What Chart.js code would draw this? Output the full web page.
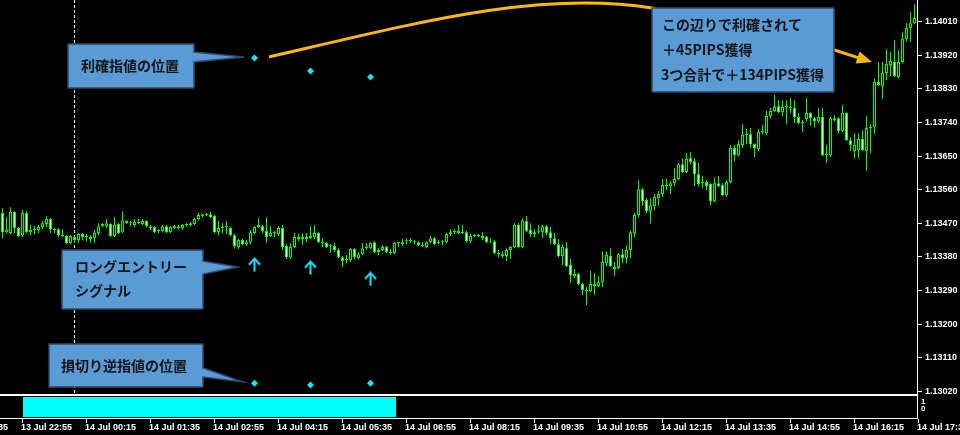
<!DOCTYPE html>
<html>
<head>
<meta charset="utf-8">
<script src="https://cdn.jsdelivr.net/npm/chart.js@4.4.1/dist/chart.umd.min.js"></script>
<style>
  html, body { margin: 0; padding: 0; background: #000; }
  #wrap { width: 960px; height: 435px; }
</style>
</head>
<body>
<div id="wrap"><canvas id="chart" width="960" height="435"></canvas></div>
<script>
// ── Data (EURUSD M5, 13 Jul 22:30 → 14 Jul 17:30) ───────────
const opens = [
  1.13496, 1.13445, 1.13443, 1.13499, 1.13456, 1.13437, 1.13496, 1.13445, 1.13451, 1.13451,
  1.13459, 1.13467, 1.13480, 1.13453, 1.13453, 1.13437, 1.13435, 1.13416, 1.13432, 1.13424,
  1.13440, 1.13432, 1.13432, 1.13429, 1.13443, 1.13461, 1.13461, 1.13467, 1.13435, 1.13467,
  1.13445, 1.13475, 1.13469, 1.13464, 1.13472, 1.13467, 1.13475, 1.13461, 1.13459, 1.13448,
  1.13448, 1.13461, 1.13445, 1.13456, 1.13461, 1.13456, 1.13464, 1.13464, 1.13467, 1.13480,
  1.13488, 1.13493, 1.13493, 1.13488, 1.13445, 1.13456, 1.13459, 1.13456, 1.13437, 1.13405,
  1.13424, 1.13413, 1.13418, 1.13443, 1.13459, 1.13461, 1.13448, 1.13435, 1.13443, 1.13440,
  1.13456, 1.13408, 1.13378, 1.13405, 1.13432, 1.13427, 1.13432, 1.13429, 1.13432, 1.13443,
  1.13418, 1.13416, 1.13408, 1.13408, 1.13397, 1.13378, 1.13370, 1.13370, 1.13400, 1.13376,
  1.13386, 1.13402, 1.13402, 1.13418, 1.13392, 1.13397, 1.13405, 1.13392, 1.13389, 1.13416,
  1.13413, 1.13421, 1.13421, 1.13421, 1.13418, 1.13410, 1.13405, 1.13418, 1.13429, 1.13416,
  1.13418, 1.13418, 1.13440, 1.13445, 1.13448, 1.13443, 1.13445, 1.13421, 1.13435, 1.13437,
  1.13435, 1.13432, 1.13418, 1.13421, 1.13389, 1.13386, 1.13381, 1.13397, 1.13405, 1.13464,
  1.13405, 1.13475, 1.13451, 1.13440, 1.13445, 1.13445, 1.13461, 1.13445, 1.13429, 1.13413,
  1.13381, 1.13402, 1.13357, 1.13328, 1.13333, 1.13306, 1.13290, 1.13287, 1.13306, 1.13301,
  1.13311, 1.13362, 1.13381, 1.13352, 1.13349, 1.13386, 1.13376, 1.13397, 1.13443, 1.13491,
  1.13560, 1.13531, 1.13501, 1.13515, 1.13536, 1.13547, 1.13571, 1.13568, 1.13576, 1.13587,
  1.13627, 1.13606, 1.13643, 1.13635, 1.13600, 1.13576, 1.13579, 1.13574, 1.13528, 1.13576,
  1.13571, 1.13544, 1.13579, 1.13670, 1.13651, 1.13678, 1.13705, 1.13707, 1.13681, 1.13667,
  1.13713, 1.13710, 1.13756, 1.13769, 1.13782, 1.13766, 1.13780, 1.13780, 1.13777, 1.13753,
  1.13737, 1.13748, 1.13764, 1.13750, 1.13742, 1.13753, 1.13651, 1.13651, 1.13750, 1.13750,
  1.13716, 1.13764, 1.13691, 1.13662, 1.13665, 1.13694, 1.13662, 1.13724, 1.13726, 1.13847,
  1.13836, 1.13871, 1.13892, 1.13900, 1.13860, 1.13900, 1.13962, 1.13991, 1.14004
];
const highs = [
  1.13509, 1.13485, 1.13512, 1.13501, 1.13459, 1.13504, 1.13501, 1.13464, 1.13461, 1.13464,
  1.13475, 1.13488, 1.13483, 1.13456, 1.13456, 1.13453, 1.13437, 1.13437, 1.13435, 1.13443,
  1.13443, 1.13440, 1.13437, 1.13451, 1.13469, 1.13469, 1.13480, 1.13469, 1.13485, 1.13469,
  1.13501, 1.13477, 1.13475, 1.13480, 1.13480, 1.13480, 1.13477, 1.13464, 1.13461, 1.13453,
  1.13464, 1.13464, 1.13461, 1.13464, 1.13464, 1.13467, 1.13469, 1.13472, 1.13483, 1.13496,
  1.13493, 1.13496, 1.13499, 1.13491, 1.13475, 1.13469, 1.13475, 1.13459, 1.13440, 1.13427,
  1.13427, 1.13424, 1.13451, 1.13461, 1.13483, 1.13464, 1.13485, 1.13461, 1.13448, 1.13461,
  1.13464, 1.13413, 1.13416, 1.13443, 1.13440, 1.13443, 1.13443, 1.13461, 1.13464, 1.13445,
  1.13429, 1.13418, 1.13413, 1.13416, 1.13402, 1.13381, 1.13384, 1.13402, 1.13402, 1.13392,
  1.13416, 1.13416, 1.13418, 1.13421, 1.13402, 1.13410, 1.13408, 1.13400, 1.13418, 1.13418,
  1.13427, 1.13429, 1.13429, 1.13424, 1.13421, 1.13418, 1.13421, 1.13435, 1.13432, 1.13424,
  1.13424, 1.13443, 1.13453, 1.13453, 1.13464, 1.13464, 1.13448, 1.13440, 1.13440, 1.13440,
  1.13445, 1.13435, 1.13429, 1.13424, 1.13397, 1.13394, 1.13402, 1.13408, 1.13469, 1.13469,
  1.13483, 1.13488, 1.13469, 1.13453, 1.13464, 1.13464, 1.13464, 1.13459, 1.13443, 1.13427,
  1.13413, 1.13418, 1.13373, 1.13346, 1.13336, 1.13309, 1.13298, 1.13341, 1.13336, 1.13328,
  1.13394, 1.13394, 1.13402, 1.13365, 1.13389, 1.13400, 1.13410, 1.13448, 1.13496, 1.13584,
  1.13563, 1.13536, 1.13536, 1.13547, 1.13555, 1.13587, 1.13587, 1.13582, 1.13617, 1.13630,
  1.13643, 1.13657, 1.13659, 1.13643, 1.13630, 1.13595, 1.13584, 1.13576, 1.13592, 1.13595,
  1.13576, 1.13584, 1.13678, 1.13678, 1.13691, 1.13734, 1.13721, 1.13724, 1.13683, 1.13721,
  1.13732, 1.13769, 1.13777, 1.13812, 1.13798, 1.13798, 1.13798, 1.13804, 1.13798, 1.13764,
  1.13745, 1.13804, 1.13766, 1.13753, 1.13777, 1.13777, 1.13678, 1.13753, 1.13758, 1.13753,
  1.13785, 1.13766, 1.13699, 1.13710, 1.13710, 1.13718, 1.13756, 1.13734, 1.13855, 1.13900,
  1.13900, 1.13935, 1.13927, 1.13959, 1.13932, 1.13980, 1.14004, 1.14034, 1.14055
];
const lows = [
  1.13429, 1.13443, 1.13440, 1.13443, 1.13432, 1.13432, 1.13443, 1.13437, 1.13440, 1.13443,
  1.13453, 1.13459, 1.13443, 1.13443, 1.13432, 1.13432, 1.13413, 1.13413, 1.13416, 1.13416,
  1.13424, 1.13421, 1.13418, 1.13416, 1.13437, 1.13459, 1.13456, 1.13432, 1.13432, 1.13440,
  1.13443, 1.13467, 1.13461, 1.13459, 1.13467, 1.13464, 1.13459, 1.13451, 1.13443, 1.13443,
  1.13445, 1.13443, 1.13443, 1.13453, 1.13453, 1.13451, 1.13459, 1.13461, 1.13464, 1.13477,
  1.13485, 1.13488, 1.13483, 1.13443, 1.13437, 1.13443, 1.13440, 1.13435, 1.13402, 1.13400,
  1.13410, 1.13408, 1.13413, 1.13440, 1.13456, 1.13443, 1.13416, 1.13432, 1.13432, 1.13435,
  1.13397, 1.13373, 1.13373, 1.13402, 1.13421, 1.13410, 1.13418, 1.13427, 1.13427, 1.13416,
  1.13405, 1.13402, 1.13389, 1.13392, 1.13376, 1.13352, 1.13362, 1.13365, 1.13373, 1.13373,
  1.13384, 1.13397, 1.13400, 1.13389, 1.13384, 1.13394, 1.13389, 1.13386, 1.13386, 1.13405,
  1.13408, 1.13413, 1.13416, 1.13413, 1.13408, 1.13405, 1.13402, 1.13416, 1.13410, 1.13413,
  1.13410, 1.13416, 1.13435, 1.13440, 1.13440, 1.13440, 1.13418, 1.13416, 1.13432, 1.13432,
  1.13424, 1.13416, 1.13416, 1.13386, 1.13378, 1.13376, 1.13368, 1.13373, 1.13402, 1.13402,
  1.13402, 1.13445, 1.13432, 1.13432, 1.13440, 1.13429, 1.13437, 1.13413, 1.13410, 1.13378,
  1.13357, 1.13352, 1.13309, 1.13322, 1.13303, 1.13277, 1.13250, 1.13285, 1.13277, 1.13298,
  1.13298, 1.13354, 1.13352, 1.13328, 1.13346, 1.13362, 1.13362, 1.13376, 1.13432, 1.13485,
  1.13515, 1.13496, 1.13469, 1.13504, 1.13517, 1.13539, 1.13558, 1.13547, 1.13568, 1.13584,
  1.13603, 1.13603, 1.13627, 1.13568, 1.13568, 1.13563, 1.13558, 1.13517, 1.13525, 1.13566,
  1.13542, 1.13539, 1.13576, 1.13635, 1.13649, 1.13670, 1.13681, 1.13670, 1.13646, 1.13662,
  1.13707, 1.13705, 1.13750, 1.13766, 1.13764, 1.13756, 1.13734, 1.13764, 1.13737, 1.13734,
  1.13713, 1.13742, 1.13729, 1.13726, 1.13737, 1.13649, 1.13630, 1.13646, 1.13742, 1.13710,
  1.13713, 1.13689, 1.13662, 1.13643, 1.13643, 1.13662, 1.13609, 1.13657, 1.13707, 1.13836,
  1.13801, 1.13852, 1.13863, 1.13860, 1.13857, 1.13897, 1.13956, 1.13954, 1.14002
];
const closes = [
  1.13445, 1.13453, 1.13499, 1.13456, 1.13435, 1.13496, 1.13445, 1.13451, 1.13453, 1.13459,
  1.13469, 1.13480, 1.13453, 1.13451, 1.13437, 1.13435, 1.13416, 1.13435, 1.13424, 1.13440,
  1.13432, 1.13432, 1.13427, 1.13443, 1.13461, 1.13467, 1.13469, 1.13435, 1.13464, 1.13443,
  1.13477, 1.13469, 1.13469, 1.13472, 1.13469, 1.13475, 1.13461, 1.13456, 1.13445, 1.13448,
  1.13461, 1.13445, 1.13459, 1.13461, 1.13456, 1.13464, 1.13467, 1.13469, 1.13480, 1.13491,
  1.13493, 1.13491, 1.13485, 1.13445, 1.13456, 1.13459, 1.13459, 1.13437, 1.13408, 1.13424,
  1.13413, 1.13418, 1.13445, 1.13459, 1.13464, 1.13448, 1.13432, 1.13443, 1.13443, 1.13456,
  1.13405, 1.13378, 1.13405, 1.13432, 1.13427, 1.13432, 1.13427, 1.13435, 1.13443, 1.13418,
  1.13416, 1.13405, 1.13408, 1.13397, 1.13378, 1.13368, 1.13373, 1.13400, 1.13378, 1.13386,
  1.13402, 1.13405, 1.13416, 1.13392, 1.13397, 1.13405, 1.13392, 1.13389, 1.13416, 1.13416,
  1.13418, 1.13421, 1.13424, 1.13418, 1.13410, 1.13408, 1.13418, 1.13429, 1.13413, 1.13418,
  1.13418, 1.13440, 1.13445, 1.13448, 1.13443, 1.13445, 1.13421, 1.13435, 1.13437, 1.13435,
  1.13429, 1.13418, 1.13421, 1.13389, 1.13386, 1.13381, 1.13397, 1.13405, 1.13464, 1.13405,
  1.13477, 1.13448, 1.13440, 1.13445, 1.13445, 1.13461, 1.13443, 1.13429, 1.13413, 1.13381,
  1.13405, 1.13354, 1.13330, 1.13333, 1.13306, 1.13290, 1.13287, 1.13306, 1.13301, 1.13311,
  1.13365, 1.13384, 1.13354, 1.13346, 1.13386, 1.13376, 1.13397, 1.13445, 1.13491, 1.13560,
  1.13528, 1.13501, 1.13517, 1.13539, 1.13547, 1.13571, 1.13568, 1.13576, 1.13587, 1.13627,
  1.13606, 1.13641, 1.13633, 1.13600, 1.13574, 1.13579, 1.13568, 1.13528, 1.13576, 1.13568,
  1.13544, 1.13579, 1.13670, 1.13651, 1.13681, 1.13705, 1.13707, 1.13681, 1.13670, 1.13713,
  1.13716, 1.13756, 1.13769, 1.13782, 1.13766, 1.13780, 1.13780, 1.13777, 1.13753, 1.13737,
  1.13737, 1.13764, 1.13750, 1.13742, 1.13753, 1.13651, 1.13654, 1.13750, 1.13745, 1.13716,
  1.13764, 1.13691, 1.13678, 1.13678, 1.13694, 1.13665, 1.13724, 1.13724, 1.13847, 1.13839,
  1.13871, 1.13895, 1.13903, 1.13863, 1.13900, 1.13962, 1.13991, 1.14004, 1.14018
];

// trade markers (bar index + price)
const entryBars = [63, 77, 92];
const takeProfit = [1.13911, 1.13876, 1.13860];
const stopLoss = [1.13041, 1.13036, 1.13041];
const entryArrow = [1.13358, 1.13350, 1.13320];

// indicator sub-window: signal on between these bars
const signalBars = [5, 98];
const separatorBar = 18;   // 14 Jul 00:00

// axis labels
const priceTicks = [1.13020, 1.13110, 1.13200, 1.13290, 1.13380, 1.13470,
                    1.13560, 1.13650, 1.13740, 1.13830, 1.13920, 1.14010];
const timeTickBars = [-11, 5, 21, 37, 53, 69, 85, 101, 117, 133, 149, 165, 181, 197, 213, 229];
const timeTickLabels = ['13 Jul 21:35', '13 Jul 22:55', '14 Jul 00:15', '14 Jul 01:35', '14 Jul 02:55',
  '14 Jul 04:15', '14 Jul 05:35', '14 Jul 06:55', '14 Jul 08:15', '14 Jul 09:35', '14 Jul 10:55',
  '14 Jul 12:15', '14 Jul 13:35', '14 Jul 14:55', '14 Jul 16:15', '14 Jul 17:35'];

// ── Colours ──────────────────────────────────────────────────
const LIME = '#00ff00';
const CYAN = '#12e6f8';
const ORANGE = '#ffb80a';
const BOX = '#5b9bd5';
const BOX_EDGE = '#2c4a6b';
const AXIS_FONT = 'bold 9px "Liberation Sans"';

// ── Arrow symbol for entries ─────────────────────────────────
function makeArrow() {
  const c = document.createElement('canvas');
  c.width = 13; c.height = 15;
  const g = c.getContext('2d');
  g.strokeStyle = CYAN;
  g.lineWidth = 2;
  g.beginPath(); g.moveTo(6.5, 2); g.lineTo(6.5, 14.5); g.stroke();
  g.beginPath(); g.moveTo(1, 7.5); g.lineTo(6.5, 1.5); g.lineTo(12, 7.5); g.stroke();
  return c;
}

// ── Overlay drawing (frame, axes, notes) ─────────────────────
function callout(ctx, box, ptr, lines) {
  const [x0, y0, x1, y1] = box;
  ctx.beginPath();
  ctx.moveTo(x0, y0);
  ctx.lineTo(x1, y0);
  if (ptr) {
    ctx.lineTo(x1, ptr[0]);
    ctx.lineTo(ptr[2], ptr[3]);
    ctx.lineTo(x1, ptr[1]);
  }
  ctx.lineTo(x1, y1);
  ctx.lineTo(x0, y1);
  ctx.closePath();
  ctx.fillStyle = BOX;
  ctx.fill();
  ctx.strokeStyle = BOX_EDGE;
  ctx.lineWidth = 1.5;
  ctx.stroke();

  ctx.fillStyle = '#141414';
  ctx.font = 'bold 14px "Noto Sans CJK JP"';
  ctx.textBaseline = 'middle';
  ctx.textAlign = 'left';
  lines.forEach(l => ctx.fillText(l[0], l[1], l[2]));
}

const mt4Frame = {
  id: 'mt4Frame',
  beforeDraw(chart) {
    const ctx = chart.ctx;
    ctx.save();
    ctx.fillStyle = '#000';
    ctx.fillRect(0, 0, chart.width, chart.height);
    ctx.restore();
  },
  beforeDatasetsDraw(chart) {
    const { ctx, chartArea, scales: { x } } = chart;
    const sx = x.getPixelForValue(separatorBar);
    ctx.save();
    ctx.strokeStyle = '#ffffff';
    ctx.lineWidth = 1;
    ctx.setLineDash([3, 2]);
    ctx.beginPath();
    ctx.moveTo(sx, chartArea.top);
    ctx.lineTo(sx, chartArea.bottom);
    ctx.stroke();
    ctx.restore();
  },
  afterDraw(chart) {
    const { ctx, chartArea: area, scales: { x, y } } = chart;
    ctx.save();

    // window borders
    ctx.fillStyle = '#ffffff';
    ctx.fillRect(0, area.bottom, area.right + 1, 2);
    ctx.fillRect(0, 418, area.right + 1, 1);
    ctx.fillRect(area.right, 0, 1, 419);

    // indicator histogram
    ctx.fillStyle = '#00ffff';
    const s0 = x.getPixelForValue(signalBars[0]) + 0.5;
    const s1 = x.getPixelForValue(signalBars[1]) + 1.5;
    ctx.fillRect(s0, 397, s1 - s0, 20);

    // price axis
    ctx.font = AXIS_FONT;
    ctx.textBaseline = 'middle';
    ctx.textAlign = 'left';
    ctx.fillStyle = '#ffffff';
    priceTicks.forEach(p => {
      const py = Math.round(y.getPixelForValue(p));
      ctx.fillRect(area.right + 1, py, 4, 1);
      ctx.fillText(p.toFixed(5), 925, py + 0.5);
    });
    ctx.font = 'bold 8px "Liberation Sans"';
    ctx.fillText('1', 921, 402);
    ctx.fillText('0', 921, 409);

    // time axis
    ctx.font = AXIS_FONT;
    timeTickBars.forEach((b, i) => {
      const px = Math.round(x.getPixelForValue(b) - 0.5);
      ctx.fillRect(px, 419, 1, 4);
      ctx.fillText(timeTickLabels[i], px - 1, 427.5);
    });

    // orange arrow (behind the big note)
    ctx.strokeStyle = ORANGE;
    ctx.fillStyle = ORANGE;
    ctx.lineWidth = 3;
    ctx.beginPath();
    ctx.moveTo(269, 57);
    ctx.bezierCurveTo(420, 22, 540, -10, 652, 8);
    ctx.lineTo(700, 20);
    ctx.stroke();
    ctx.beginPath();
    ctx.moveTo(800, 39);
    ctx.lineTo(858, 57.6);
    ctx.stroke();
    ctx.beginPath();
    ctx.moveTo(872, 62);
    ctx.lineTo(859.6, 51.6);
    ctx.lineTo(855.6, 63.6);
    ctx.closePath();
    ctx.fill();

    // notes
    callout(ctx, [68, 44, 194, 88], [52, 62, 244, 57], [['利確指値の位置', 81, 65.5]]);
    callout(ctx, [62, 250, 203, 309], [261, 274, 238, 267],
      [['ロングエントリー', 75, 266.5], ['シグナル', 75, 291]]);
    callout(ctx, [49, 344, 203, 387], [368, 377, 243, 382], [['損切り逆指値の位置', 61, 365.5]]);
    callout(ctx, [652, 8, 834, 92], null, [
      ['この辺りで利確されて', 662, 25],
      ['＋45PIPS獲得', 662, 50],
      ['3つ合計で＋134PIPS獲得', 661, 74.5]
    ]);

    ctx.restore();
  }
};

// ── Chart ────────────────────────────────────────────────────
const wickData = highs.map((h, i) => ({ x: i, y: [lows[i], h] }));
const bodyData = opens.map((o, i) => ({ x: i, y: [o, closes[i]] }));
const bodyFill = opens.map((o, i) => (closes[i] < o ? '#ffffff' : '#000000'));

const ctx = document.getElementById('chart').getContext('2d');
new Chart(ctx, {
  type: 'bar',
  data: {
    datasets: [
      {
        label: 'wick',
        data: wickData,
        backgroundColor: LIME,
        borderWidth: 0,
        barThickness: 1,
        maxBarThickness: 1,
        inflateAmount: 0,
        grouped: false,
        order: 4
      },
      {
        label: 'body',
        data: bodyData,
        backgroundColor: bodyFill,
        borderColor: LIME,
        borderWidth: 1,
        borderSkipped: false,
        barThickness: 3,
        maxBarThickness: 3,
        minBarLength: 1,
        inflateAmount: 0,
        grouped: false,
        order: 3
      },
      {
        type: 'scatter',
        label: 'tp',
        data: entryBars.map((b, i) => ({ x: b, y: takeProfit[i] })),
        pointStyle: 'rectRot',
        radius: 3.5,
        backgroundColor: CYAN,
        borderWidth: 0,
        order: 1
      },
      {
        type: 'scatter',
        label: 'sl',
        data: entryBars.map((b, i) => ({ x: b, y: stopLoss[i] })),
        pointStyle: 'rectRot',
        radius: 3.5,
        backgroundColor: CYAN,
        borderWidth: 0,
        order: 1
      },
      {
        type: 'scatter',
        label: 'entry',
        data: entryBars.map((b, i) => ({ x: b, y: entryArrow[i] })),
        pointStyle: makeArrow(),
        radius: 6,
        order: 1
      }
    ]
  },
  options: {
    responsive: false,
    animation: false,
    devicePixelRatio: 1,
    events: [],
    layout: { autoPadding: false, padding: { left: 0, top: 0, right: 43, bottom: 41 } },
    scales: {
      x: { type: 'linear', min: -0.625, max: 228.625, offset: false, bounds: 'data', display: false },
      y: { type: 'linear', min: 1.13012, max: 1.140662, beginAtZero: false, bounds: 'data', display: false }
    },
    plugins: {
      legend: { display: false },
      tooltip: { enabled: false }
    }
  },
  plugins: [mt4Frame]
});
</script>
</body>
</html>
